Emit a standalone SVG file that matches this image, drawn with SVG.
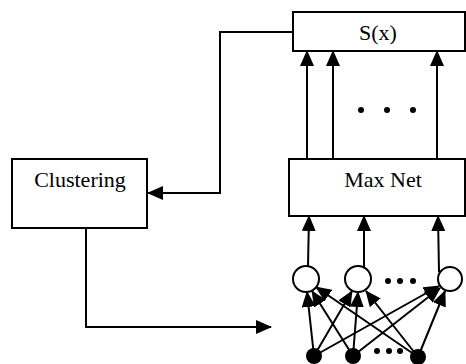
<svg xmlns="http://www.w3.org/2000/svg" width="466" height="364" viewBox="0 0 466 364">
<defs>
<marker id="ah" viewBox="0 0 16 14" refX="15" refY="7" markerWidth="16" markerHeight="14" markerUnits="userSpaceOnUse" orient="auto">
<path d="M0,0 L16,7 L0,14 z" fill="#000"/>
</marker>
</defs>
<style>
.box{fill:#fff;stroke:#000;stroke-width:2}
.lbl{font-family:"Liberation Serif","Times New Roman",serif;font-size:22px;fill:#000;text-anchor:middle}
.ln{fill:none;stroke:#000;stroke-width:2;marker-end:url(#ah)}
.unit{fill:#fff;stroke:#000;stroke-width:2}
.inp{fill:#000}
.dot{fill:#000}
</style>
<rect width="466" height="364" fill="#fff"/>
<g id="connectors">
<polyline class="ln" points="293,32 220,32 220,193 148,193"/>
<polyline class="ln" points="86,228 86,327 271,327"/>
<line class="ln" x1="307" y1="159" x2="307" y2="51"/>
<line class="ln" x1="333" y1="159" x2="333" y2="51"/>
<line class="ln" x1="437" y1="159" x2="437" y2="51"/>
<line class="ln" x1="308" y1="266" x2="309" y2="216"/>
<line class="ln" x1="364" y1="267" x2="364" y2="216"/>
<line class="ln" x1="439" y1="272" x2="438" y2="216"/>
<line class="ln" x1="314" y1="356" x2="307" y2="292"/>
<line class="ln" x1="353" y1="356" x2="312" y2="291"/>
<line class="ln" x1="418" y1="357" x2="316" y2="287"/>
<line class="ln" x1="314" y1="356" x2="352" y2="291"/>
<line class="ln" x1="353" y1="356" x2="358" y2="292"/>
<line class="ln" x1="418" y1="357" x2="366" y2="291"/>
<line class="ln" x1="314" y1="356" x2="439" y2="286"/>
<line class="ln" x1="353" y1="356" x2="440" y2="288"/>
<line class="ln" x1="418" y1="357" x2="445" y2="291"/>
</g>
<g id="sx"><rect class="box" x="293" y="12" width="172" height="39"/><text class="lbl" x="378" y="40">S(x)</text></g>
<g id="maxnet"><rect class="box" x="289" y="159" width="176" height="57"/><text class="lbl" x="383" y="187">Max Net</text></g>
<g id="clustering"><rect class="box" x="12" y="159" width="135" height="69"/><text class="lbl" x="80" y="187">Clustering</text></g>
<g id="dots-top"><circle class="dot" cx="361" cy="110" r="3"/><circle class="dot" cx="387" cy="110" r="3"/><circle class="dot" cx="413" cy="110" r="3"/></g>
<g id="unit1"><circle class="unit" cx="306" cy="279" r="13"/></g>
<g id="unit2"><circle class="unit" cx="358" cy="279" r="13"/></g>
<g id="unit3"><circle class="unit" cx="450" cy="279" r="12"/></g>
<g id="dots-mid"><circle class="dot" cx="388" cy="281" r="3"/><circle class="dot" cx="400" cy="281" r="3"/><circle class="dot" cx="413" cy="281" r="3"/></g>
<g id="in1"><circle class="inp" cx="314" cy="356" r="8"/></g>
<g id="in2"><circle class="inp" cx="353" cy="356" r="8"/></g>
<g id="in3"><circle class="inp" cx="418" cy="357" r="8"/></g>
<g id="dots-bot"><circle class="dot" cx="377" cy="351" r="3"/><circle class="dot" cx="389" cy="351" r="3"/><circle class="dot" cx="400" cy="351" r="3"/></g>
</svg>
